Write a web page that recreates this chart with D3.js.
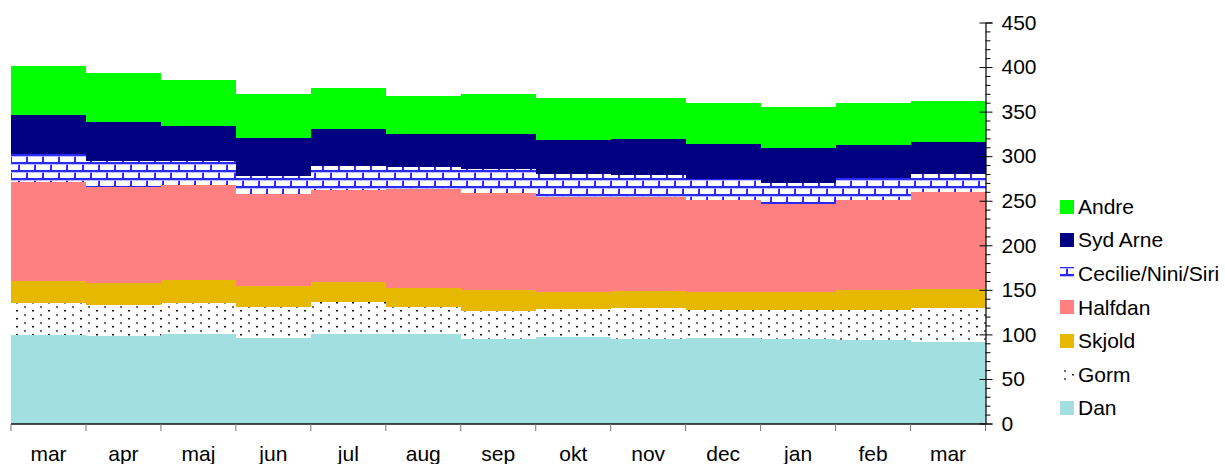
<!DOCTYPE html>
<html>
<head>
<meta charset="utf-8">
<script src="https://cdn.jsdelivr.net/npm/d3@7/dist/d3.min.js"></script>
<style>
  html, body { margin: 0; padding: 0; background: #fff; }
  svg { display: block; font-family: "Liberation Sans", Arial, sans-serif; }
</style>
</head>
<body>
<svg id="chart" width="1225" height="464"></svg>
<script>
// ---- data ----
const months = ["mar","apr","maj","jun","jul","aug","sep","okt","nov","dec","jan","feb","mar"];
const seriesNames = ["Dan","Gorm","Skjold","Halfdan","Cecilie/Nini/Siri","Syd Arne","Andre"];
const dan      = [99.3, 98.0, 100.4, 96.0, 100.4, 100.4, 94.8, 97.0, 94.8, 96.0, 94.8, 93.7, 91.4];
const gorm     = [36.2, 35.0, 35.1, 34.7, 35.9, 30.3, 31.4, 31.4, 34.8, 31.3, 32.5, 33.6, 38.2];
const skjold   = [24.3, 24.6, 25.5, 23.5, 22.7, 21.3, 23.5, 19.1, 19.0, 20.2, 20.2, 22.4, 21.3];
const halfdan  = [111.2, 108.0, 106.5, 103.2, 102.8, 110.7, 108.8, 106.5, 105.4, 103.2, 98.5, 101.0, 108.8];
const cecilie  = [31.0, 28.9, 27.0, 20.2, 27.0, 24.7, 27.0, 26.0, 24.8, 23.6, 24.0, 24.8, 20.3];
const sydArne  = [44.0, 43.5, 39.5, 42.4, 41.6, 37.3, 39.2, 38.0, 40.5, 39.9, 39.0, 37.5, 35.4];
const andre    = [55.0, 55.0, 51.0, 49.6, 45.9, 42.7, 44.9, 47.1, 45.8, 45.3, 46.0, 46.5, 46.3];
const yTicks   = [0, 50, 100, 150, 200, 250, 300, 350, 400, 450];

const seriesValues = [dan, gorm, skjold, halfdan, cecilie, sydArne, andre];
const fills = ["#a2dfe1", "url(#dots)", "#e6b800", "#ff8080", "url(#bricks)", "#000080", "#00ff00"];

const rows = months.map((m, i) => {
  const r = { idx: i };
  seriesNames.forEach((s, k) => r[s] = seriesValues[k][i]);
  return r;
});

const svg = d3.select("#chart");
const FS = 21;

// ---- patterns ----
const defs = svg.append("defs");
const br = defs.append("pattern").attr("id", "bricks").attr("patternUnits", "userSpaceOnUse")
  .attr("width", 16).attr("height", 16).attr("x", 0).attr("y", 2);
br.append("rect").attr("width", 16).attr("height", 16).attr("fill", "#ffffff");
br.append("rect").attr("x", 0).attr("y", 0).attr("width", 16).attr("height", 2.2).attr("fill", "#2a2aff");
br.append("rect").attr("x", 0).attr("y", 8).attr("width", 16).attr("height", 2.2).attr("fill", "#2a2aff");
br.append("rect").attr("x", 2).attr("y", 0).attr("width", 2).attr("height", 8).attr("fill", "#2a2aff");
br.append("rect").attr("x", 10).attr("y", 8).attr("width", 2).attr("height", 8).attr("fill", "#2a2aff");
br.append("rect").attr("x", 0).attr("y", 2.2).attr("width", 16).attr("height", 0.8).attr("fill", "#b8b8ff");
br.append("rect").attr("x", 0).attr("y", 10.2).attr("width", 16).attr("height", 0.8).attr("fill", "#b8b8ff");

const dp = defs.append("pattern").attr("id", "dots").attr("patternUnits", "userSpaceOnUse")
  .attr("width", 16).attr("height", 8).attr("x", 8).attr("y", 2);
dp.append("rect").attr("width", 16).attr("height", 8).attr("fill", "#ffffff");
dp.append("rect").attr("x", 0).attr("y", 0).attr("width", 2).attr("height", 2).attr("fill", "#6e6e6e");
dp.append("rect").attr("x", 8).attr("y", 4).attr("width", 2).attr("height", 1.5).attr("fill", "#1a1a1a");

// ---- scales ----
const x = d3.scaleBand().domain(months.map((m, i) => i)).range([11, 985.5]).paddingInner(0).paddingOuter(0);
const y = d3.scaleLinear().domain([0, 450]).range([423.5, 22.5]);

const stack = d3.stack().keys(seriesNames);
const stacked = stack(rows);

svg.append("g").selectAll("g").data(stacked).join("g")
  .attr("fill", (d, i) => fills[i])
  .selectAll("rect").data(d => d).join("rect")
  .attr("shape-rendering", "crispEdges")
  .attr("x", d => x(d.data.idx))
  .attr("width", x.bandwidth() + 0.5)
  .attr("y", d => y(d[1]))
  .attr("height", d => y(d[0]) - y(d[1]));

// ---- x axis ----
const xg = svg.append("g");
xg.append("line").attr("x1", x.range()[0]).attr("x2", x.range()[1])
  .attr("y1", y(0) + 0.5).attr("y2", y(0) + 0.5).attr("stroke", "#111").attr("stroke-width", 1.3);
const bounds = d3.range(months.length + 1).map(i => x.range()[0] + i * x.step());
xg.selectAll("line.t").data(bounds).join("line").attr("class", "t")
  .attr("x1", d => d).attr("x2", d => d)
  .attr("y1", y(0) + 0.5).attr("y2", y(0) + 7.5)
  .attr("stroke", "#777").attr("stroke-width", 1);
xg.selectAll("text").data(months).join("text")
  .attr("x", (d, i) => x(i) + x.bandwidth() / 2)
  .attr("y", 461)
  .attr("text-anchor", "middle")
  .attr("font-size", FS)
  .attr("fill", "#000")
  .text(d => d);

// ---- y axis ----
const ax = x.range()[1];
const yAxis = d3.axisRight(y).tickValues(yTicks).tickSize(7).tickPadding(9);
const yg = svg.append("g").attr("transform", `translate(${ax},0)`).call(yAxis);
yg.select(".domain").attr("stroke", "#000").attr("stroke-width", 1.2);
yg.selectAll(".tick line").attr("stroke", "#000");
yg.selectAll(".tick text").attr("font-size", FS).attr("fill", "#000")
  .attr("font-family", "Liberation Sans, Arial, sans-serif");
yg.selectAll(".tick").append("line").attr("x1", -6).attr("x2", 0).attr("stroke", "#000");
const minor = d3.range(0, 451, 10).filter(v => v % 50 !== 0);
yg.selectAll("line.minor").data(minor).join("line").attr("class", "minor")
  .attr("x1", 0).attr("x2", 5)
  .attr("y1", d => y(d) + 0.5).attr("y2", d => y(d) + 0.5)
  .attr("stroke", "#000");

// ---- legend ----
const legendOrder = seriesNames.map((s, i) => i).reverse();
const lg = svg.append("g");
legendOrder.forEach((k, j) => {
  const cy = 206.5 + j * 33.6;
  lg.append("rect").attr("x", 1060).attr("y", cy - 7).attr("width", 14).attr("height", 14)
    .attr("fill", fills[k]).attr("shape-rendering", "crispEdges");
  lg.append("text").attr("x", 1078).attr("y", cy).attr("dy", "0.35em")
    .attr("font-size", FS).attr("fill", "#000").text(seriesNames[k]);
});
</script>
</body>
</html>
